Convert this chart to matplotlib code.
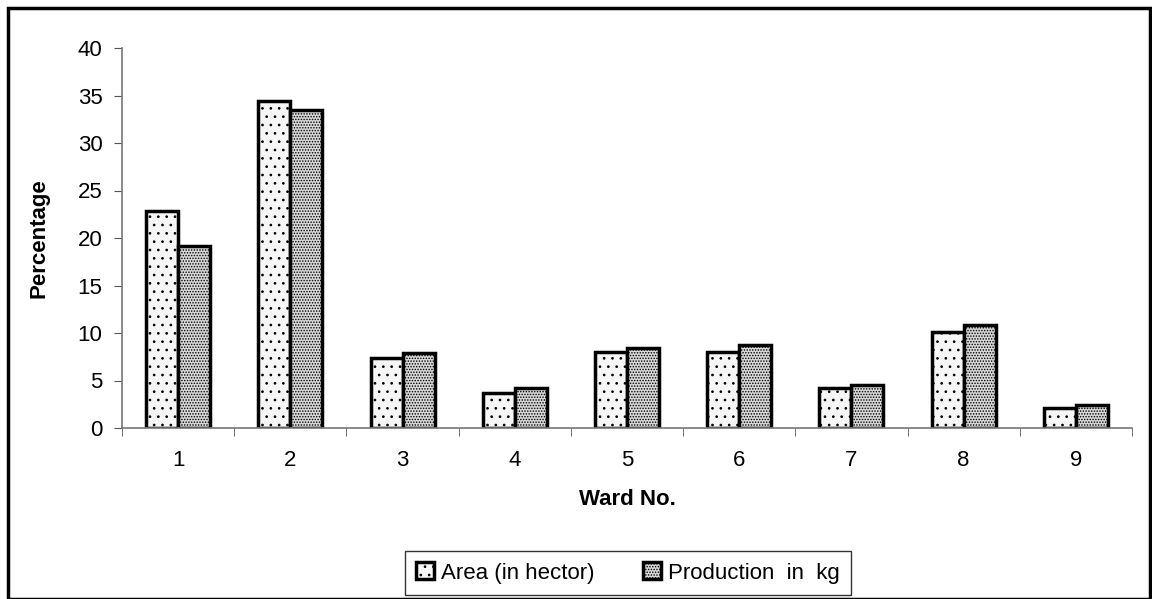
import matplotlib.pyplot as plt
import numpy as np
from matplotlib.patches import Rectangle

plt.rcParams['font.family'] = ['Liberation Sans', 'DejaVu Sans']
plt.rcParams['hatch.linewidth'] = 0.7
plt.rcParams['hatch.color'] = '#333333'

wards = ['1', '2', '3', '4', '5', '6', '7', '8', '9']
area = [22.8, 34.4, 7.4, 3.7, 8.0, 8.0, 4.2, 10.1, 2.1]
production = [19.2, 33.5, 7.9, 4.2, 8.4, 8.7, 4.5, 10.8, 2.4]

fig = plt.figure(figsize=(11.52, 5.99), dpi=100)
ax = fig.add_axes([122/1152, 1-428/599, 1010/1152, 380/599])

x = np.arange(len(wards))
w = 0.285
ax.bar(x - w/2, area, w, facecolor='#f6f6f6', edgecolor='black', linewidth=2.5,
       hatch='..', label='Area (in hector)')
ax.bar(x + w/2, production, w, facecolor='#d8d8d8', edgecolor='black', linewidth=2.5,
       hatch='......', label='Production  in  kg')

ax.set_xlim(-0.5, len(wards) - 0.5)
ax.set_ylim(0, 40)
ax.set_yticks(range(0, 41, 5))
ax.set_xticks(x)
ax.set_xticklabels(wards)
ax.set_xticks(np.arange(-0.5, len(wards), 1), minor=True)
ax.tick_params(axis='x', which='major', length=0, pad=16, labelsize=16)
ax.tick_params(axis='x', which='minor', length=6, direction='out', color='#555555')
ax.tick_params(axis='y', length=6, direction='out', color='#555555', labelsize=16, pad=8)
for s in ['top', 'right']:
    ax.spines[s].set_visible(False)
for s in ['left', 'bottom']:
    ax.spines[s].set_color('#777777')
    ax.spines[s].set_linewidth(1.2)

ax.set_ylabel('Percentage', fontweight='bold', fontsize=16, labelpad=20)
ax.set_xlabel('Ward No.', fontweight='bold', fontsize=16, labelpad=13)

leg = fig.legend(loc='center', bbox_to_anchor=(628/1152, 1-573/599), ncol=2,
                 frameon=True, fancybox=False, fontsize=16, edgecolor='black',
                 handlelength=0.8, handleheight=0.8, handletextpad=0.3,
                 columnspacing=2.2, borderpad=0.5)
leg.get_frame().set_linewidth(1.0)

fig.patches.append(Rectangle((8/1152, 0), 1142/1152, 1 - 8/599, transform=fig.transFigure,
                             fill=False, edgecolor='black', linewidth=2.5))

fig.savefig('out.png', dpi=100)
